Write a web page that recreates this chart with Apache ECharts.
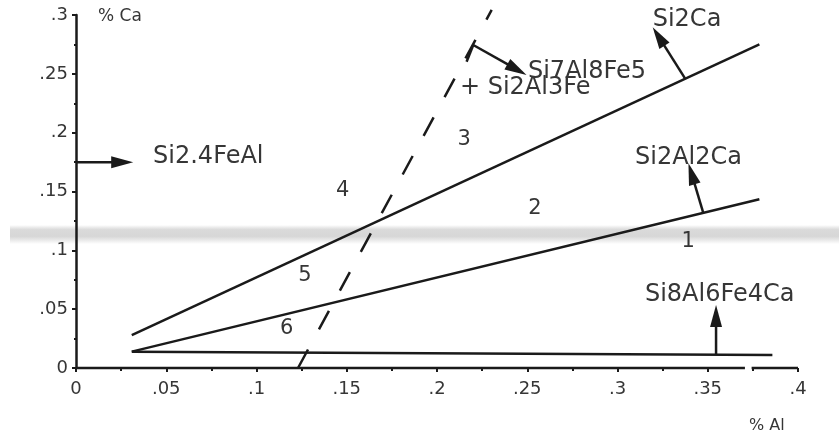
<!DOCTYPE html>
<html>
<head>
<meta charset="utf-8">
<script src="https://cdn.jsdelivr.net/npm/echarts@6/dist/echarts.min.js"></script>
<style>
  html, body { margin: 0; padding: 0; background: #ffffff; }
  #chart { width: 839px; height: 439px; }
</style>
</head>
<body>
<div id="chart"></div>
<script>
// Phase-region boundaries, x = % Al, y = % Ca
const upperBoundary  = [[0.0309, 0.0280], [0.3786, 0.2751]];
const middleBoundary = [[0.0309, 0.0139], [0.3786, 0.1434]];
const lowerBoundary  = [[0.0309, 0.0139], [0.3858, 0.0110]];
const dashedBoundary = [[0.1230, 0.0000], [0.2303, 0.3043]];

// Short solid stub where the Si7Al8Fe5 arrow leaves the dashed line
const arrowStub = [[0.2164, 0.2603], [0.2201, 0.2745]];

// The x axis is drawn in two pieces with a small break before .375
const xAxisPieces = [
  [[0.0, 0.0], [0.3706, 0.0]],
  [[0.3743, 0.0], [0.4, 0.0]]
];

// Arrows pointing toward the phase that forms: [x0, y0, x1, y1]
const arrows = [
  [0.0000, 0.1748, 0.0317, 0.1748],
  [0.3374, 0.2462, 0.3195, 0.2896],
  [0.3476, 0.1315, 0.3393, 0.1740],
  [0.3546, 0.0110, 0.3546, 0.0535],
  [0.2201, 0.2745, 0.2496, 0.2490]
];

// Phase names, left-aligned at [x, y]
const phaseLabels = [
  [0.0427, 0.1793, 'Si2.4FeAl'],
  [0.3195, 0.2958, 'Si2Ca'],
  [0.3097, 0.1785, 'Si2Al2Ca'],
  [0.3152, 0.0620, 'Si8Al6Fe4Ca'],
  [0.2504, 0.2516, 'Si7Al8Fe5'],
  [0.2127, 0.2380, '+ Si2Al3Fe']
];

// Region numbers, centred at [x, y]
const regionLabels = [
  [0.3392, 0.1073, '1'],
  [0.2543, 0.1357, '2'],
  [0.2151, 0.1944, '3'],
  [0.1478, 0.1507, '4'],
  [0.1269, 0.0782, '5'],
  [0.1167, 0.0337, '6']
];

const xTickLabels = ['0', '.05', '.1', '.15', '.2', '.25', '.3', '.35', '.4'];
const yTickLabels = ['0', '.05', '.1', '.15', '.2', '.25', '.3'];

const INK = '#1a1a1a';
const TEXT = '#363636';
const FONT = 'DejaVu Sans';

const chart = echarts.init(document.getElementById('chart'), null, { renderer: 'canvas' });

function solidLine(data, z) {
  return {
    type: 'line', data: data, symbol: 'none', clip: false, silent: true, z: z || 3,
    lineStyle: { color: INK, width: 2.5 }
  };
}

function textSeries(rows, align, size) {
  return {
    type: 'custom', silent: true, z: 6, clip: false,
    data: rows,
    renderItem: function (params, api) {
      const p = api.coord([api.value(0), api.value(1)]);
      return {
        type: 'text',
        x: p[0], y: p[1],
        style: {
          text: rows[params.dataIndex][2],
          fontFamily: FONT, fontSize: size,
          fill: TEXT,
          align: align, verticalAlign: 'middle',
          textAlign: align, textVerticalAlign: 'middle'
        }
      };
    }
  };
}

const option = {
  animation: false,
  backgroundColor: '#ffffff',
  grid: { left: 76, right: 41, top: 15, bottom: 71, containLabel: false },
  xAxis: {
    type: 'value', min: 0, max: 0.4, interval: 0.05,
    axisLine: { show: false },
    axisTick: { show: true, inside: false, length: 4, lineStyle: { color: INK, width: 2 } },
    minorTick: { show: true, splitNumber: 2, length: 3, lineStyle: { color: INK, width: 2 } },
    splitLine: { show: false },
    axisLabel: {
      margin: 12, color: TEXT, fontFamily: FONT, fontSize: 18,
      formatter: function (v) { return xTickLabels[Math.round(v / 0.05)]; }
    }
  },
  yAxis: {
    type: 'value', min: 0, max: 0.3, interval: 0.05,
    axisLine: { show: true, lineStyle: { color: INK, width: 2.5 } },
    axisTick: { show: true, inside: false, length: 4, lineStyle: { color: INK, width: 2 } },
    minorTick: { show: true, splitNumber: 2, length: 2, lineStyle: { color: INK, width: 2 } },
    splitLine: { show: false },
    axisLabel: {
      margin: 8, color: TEXT, fontFamily: FONT, fontSize: 18,
      formatter: function (v) { return yTickLabels[Math.round(v / 0.05)]; }
    }
  },
  graphic: [
    {
      type: 'rect', z: -10, silent: true,
      shape: { x: 10, y: 225, width: 829, height: 19 },
      style: {
        fill: new echarts.graphic.LinearGradient(0, 0, 0, 1, [
          { offset: 0, color: 'rgba(200,200,200,0)' },
          { offset: 0.25, color: 'rgba(205,205,205,0.75)' },
          { offset: 0.6, color: 'rgba(205,205,205,0.8)' },
          { offset: 1, color: 'rgba(200,200,200,0)' }
        ])
      }
    },
    {
      type: 'text', left: 98, top: 8, silent: true,
      style: { text: '% Ca', fontFamily: FONT, fontSize: 17, fill: TEXT }
    },
    {
      type: 'text', left: 749, top: 418, silent: true,
      style: { text: '% Al', fontFamily: FONT, fontSize: 16, fill: TEXT }
    }
  ],
  series: [
    solidLine(xAxisPieces[0], 4),
    solidLine(xAxisPieces[1], 4),
    solidLine(upperBoundary),
    solidLine(middleBoundary),
    solidLine(lowerBoundary),
    solidLine(arrowStub),
    {
      type: 'line', data: dashedBoundary, symbol: 'none', clip: false, silent: true, z: 3,
      lineStyle: { color: INK, width: 2.5, type: [21, 23] }
    },
    {
      type: 'custom', silent: true, z: 5, clip: false,
      data: arrows,
      renderItem: function (params, api) {
        const p0 = api.coord([api.value(0), api.value(1)]);
        const p1 = api.coord([api.value(2), api.value(3)]);
        const dx = p1[0] - p0[0], dy = p1[1] - p0[1];
        const len = Math.sqrt(dx * dx + dy * dy);
        const ux = dx / len, uy = dy / len;
        const headLen = 22, half = 6;
        const bx = p1[0] - ux * headLen, by = p1[1] - uy * headLen;
        const nx = -uy, ny = ux;
        return {
          type: 'group',
          children: [
            {
              type: 'line',
              shape: { x1: p0[0], y1: p0[1], x2: bx + ux * 2, y2: by + uy * 2 },
              style: { stroke: INK, lineWidth: 2.5 }
            },
            {
              type: 'polygon',
              shape: { points: [[p1[0], p1[1]], [bx + nx * half, by + ny * half], [bx - nx * half, by - ny * half]] },
              style: { fill: INK }
            }
          ]
        };
      }
    },
    textSeries(phaseLabels, 'left', 24),
    textSeries(regionLabels, 'center', 21)
  ]
};

chart.setOption(option);
</script>
</body>
</html>
